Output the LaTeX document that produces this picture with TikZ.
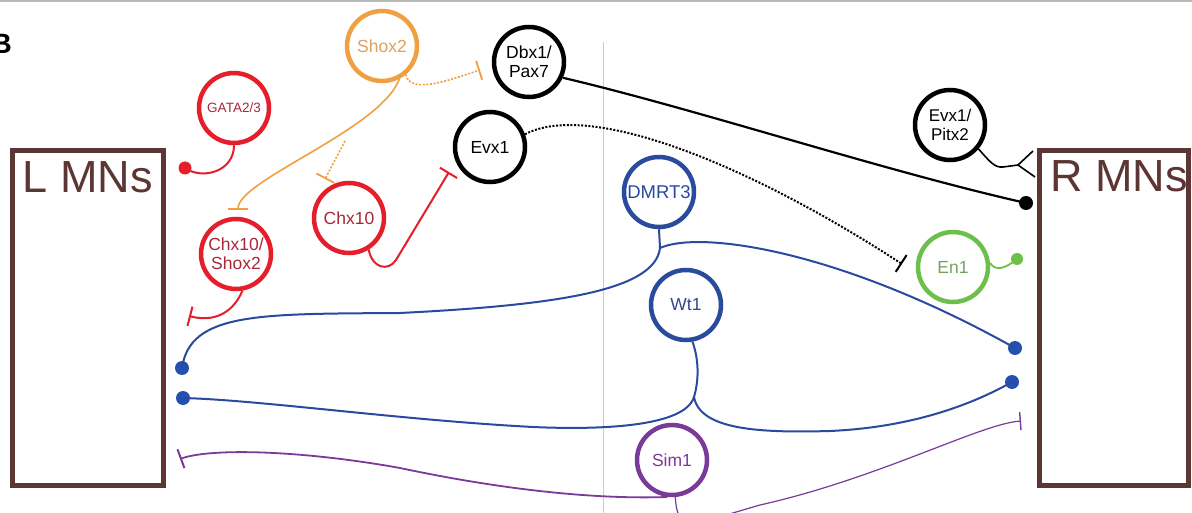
\documentclass[tikz,border=0pt]{standalone}
\usepackage{fontspec}
\setmainfont{Liberation Sans}
\usetikzlibrary{arrows.meta}
\definecolor{cred}{HTML}{E41E2A}
\definecolor{credtxt}{HTML}{A8283A}
\definecolor{corange}{HTML}{F0A040}
\definecolor{corangetxt}{HTML}{E0A060}
\definecolor{cblue}{HTML}{2A4A9E}
\definecolor{cbluedot}{HTML}{2450B0}
\definecolor{cbluetxt}{HTML}{34488A}
\definecolor{cgreen}{HTML}{6CC04A}
\definecolor{cgreentxt}{HTML}{78A060}
\definecolor{cpurple}{HTML}{7A3A98}
\definecolor{cbrown}{HTML}{5C3632}
\begin{document}
\begin{tikzpicture}[x=1pt,y=-1pt,
  gene/.style={circle,draw,line width=4.5pt,minimum size=70pt,inner sep=0pt,align=center,
    font=\fontsize{17.5}{19}\selectfont},
  mnbox/.style={draw=cbrown,line width=5pt,inner sep=0pt},
  mntext/.style={text=cbrown,inner sep=0pt,font=\fontsize{45}{45}\selectfont},
  enddot/.style={circle,fill,inner sep=0pt,minimum size=#1},
  enddot/.default=14pt,
  conn/.style={line width=2pt},
  inh/.style={-{Bar[width=20pt,line width=2pt]}},
  inhthin/.style={-{Bar[width=18pt,line width=1.4pt]}},
  dotline/.style={line width=2pt,dash pattern=on 2pt off 1.6pt}
]
\useasboundingbox (0,0) rectangle (1192,513);
\fill[white] (0,0) rectangle (1192,513);

% frame lines
\draw[gray!55,line width=1.2pt] (0,1) -- (1192,1);
\draw[gray!40,line width=0.8pt] (603,42) -- (603,513);
\node[anchor=east,inner sep=0pt,font=\bfseries\fontsize{28}{30}\selectfont] (blabel) at (12,44) {B};

% motor neuron boxes
\draw[mnbox] (12.5,150.5) rectangle (163.5,485.5);
\draw[mnbox] (1039.5,150.5) rectangle (1188.5,485.5);
\node[mntext] (lmn) at (88,177.5) {L MNs};
\node[mntext] (rmn) at (1119,176) {R MNs};

% gene circles
\node[gene,draw=corange,text=corangetxt] (shox) at (382,46) {Shox2};
\node[gene,draw=cred,text=credtxt,font=\fontsize{13.5}{15}\selectfont] (gata) at (234,108) {GATA2/3};
\node[gene,draw=black] (dbx) at (529,62) {Dbx1/\\Pax7};
\node[gene,draw=black] (evx) at (490,147) {Evx1};
\node[gene,draw=cblue,text=cblue,font=\fontsize{18.5}{19}\selectfont] (dmrt) at (659,192) {DMRT3};
\node[gene,draw=black,font=\fontsize{17}{19}\selectfont] (pitx) at (950,125) {Evx1/\\Pitx2};
\node[gene,draw=cgreen,text=cgreentxt] (en) at (953,267) {En1};
\node[gene,draw=cred,text=credtxt] (chx) at (349,218) {Chx10};
\node[gene,draw=cred,text=credtxt] (chxs) at (236,254) {Chx10/\\Shox2};
\node[gene,draw=cblue,text=cbluetxt] (wt) at (686,305) {Wt1};
\node[gene,draw=cpurple,text=cpurple] (sim) at (672,460) {Sim1};

% end dots
\node[enddot=13pt,cred] (gdot) at (185,168) {};
\node[enddot,black] (rdot1) at (1026,203) {};
\node[enddot=12pt,cgreen] (edot) at (1017,259) {};
\node[enddot,cbluedot] (ldot1) at (182,368) {};
\node[enddot,cbluedot] (ldot2) at (183,398) {};
\node[enddot,cbluedot] (rdot2) at (1015,348) {};
\node[enddot,cbluedot] (rdot3) at (1012,382) {};

% coordinates
\coordinate (sbar1) at (238,210);
\coordinate (sbr) at (345,141);
\coordinate (sbar2) at (325,179);
\coordinate (sbar3) at (480,70);
\coordinate (cbar) at (449,172);
\coordinate (csbar) at (189,316);
\coordinate (ebar) at (902,264);
\coordinate (dbr) at (660,248);
\coordinate (lmid) at (400,313);
\coordinate (wbr) at (694,397);
\coordinate (wl) at (533,427);
\coordinate (wr) at (830,431);
\coordinate (simr) at (760,505);
\coordinate (sbarl) at (180,459);
\coordinate (sbarr) at (1021,421);
\coordinate (pfork) at (1018,165);
\coordinate (pforka) at (1033,151);
\coordinate (pforkb) at (1035,177);

% GATA2/3 -> L MNs
\draw[conn,cred] (gata.-90) .. controls (234,172) and (202,180) .. (gdot.center);
% Shox2 connections
\draw[corange,line width=1.6pt,inh] (shox.-62) .. controls (380,130) and (238,180) .. (sbar1);
\draw[corange,dotline,line width=1.6pt,-{Bar[width=20pt,line width=1.8pt]}] (sbr) -- (sbar2);
\draw[corange,dotline,line width=1.6pt,-{Bar[width=20pt,line width=1.8pt]}] (shox.-50) .. controls (410,96) and (455,78) .. (sbar3);
% Chx10 -> Evx1
\draw[conn,cred,inh] (chx.-58) .. controls (372,268) and (388,272) .. (396,260) -- (cbar);
% Chx10/Shox2 -> L MNs
\draw[conn,cred,inh] (chxs.-80) .. controls (232,315) and (212,322) .. (csbar);
% Dbx1/Pax7 -> R MNs
\draw[conn,black,line width=2.2pt] (dbx.-25) .. controls (700,110) and (880,170) .. (rdot1.center);
% Evx1 -| En1
\draw[dotline,black,inh] (evx.20) .. controls (590,100) and (750,165) .. (ebar);
% Evx1/Pitx2 -> R MNs
\draw[conn,black,line width=1.6pt] (pitx.-40) .. controls (990,162) and (995,168) .. (1003,167) -- (pfork);
\draw[black,line width=1.6pt] (pforka) -- (pfork) -- (pforkb);
% En1 -> R MNs
\draw[cgreen,line width=1.8pt] (en.6) .. controls (996,272) and (1006,268) .. (edot.center);
% DMRT3
\draw[conn,cblue] (dmrt.-90) -- (dbr);
\draw[conn,cblue] (dbr) .. controls (655,290) and (560,305) .. (lmid) .. controls (260,314) and (190,312) .. (ldot1.center);
\draw[conn,cblue] (dbr) .. controls (700,230) and (840,250) .. (rdot2.center);
% Wt1
\draw[conn,cblue] (wt.-80) .. controls (699,360) and (699,380) .. (wbr);
\draw[conn,cblue] (wbr) .. controls (685,427) and (600,430) .. (wl) .. controls (400,420) and (260,400) .. (ldot2.center);
\draw[conn,cblue] (wbr) .. controls (700,430) and (760,433) .. (wr) .. controls (920,427) and (980,400) .. (rdot3.center);
% Sim1
\draw[cpurple,line width=1.8pt,inh] (sim.-97) .. controls (580,500) and (480,485) .. (400,468) .. controls (300,450) and (210,448) .. (sbarl);
\draw[cpurple,line width=1.2pt,inhthin] (sim.-85) .. controls (678,535) and (690,525) .. (simr) .. controls (880,478) and (980,424) .. (sbarr);
\end{tikzpicture}
\end{document}
